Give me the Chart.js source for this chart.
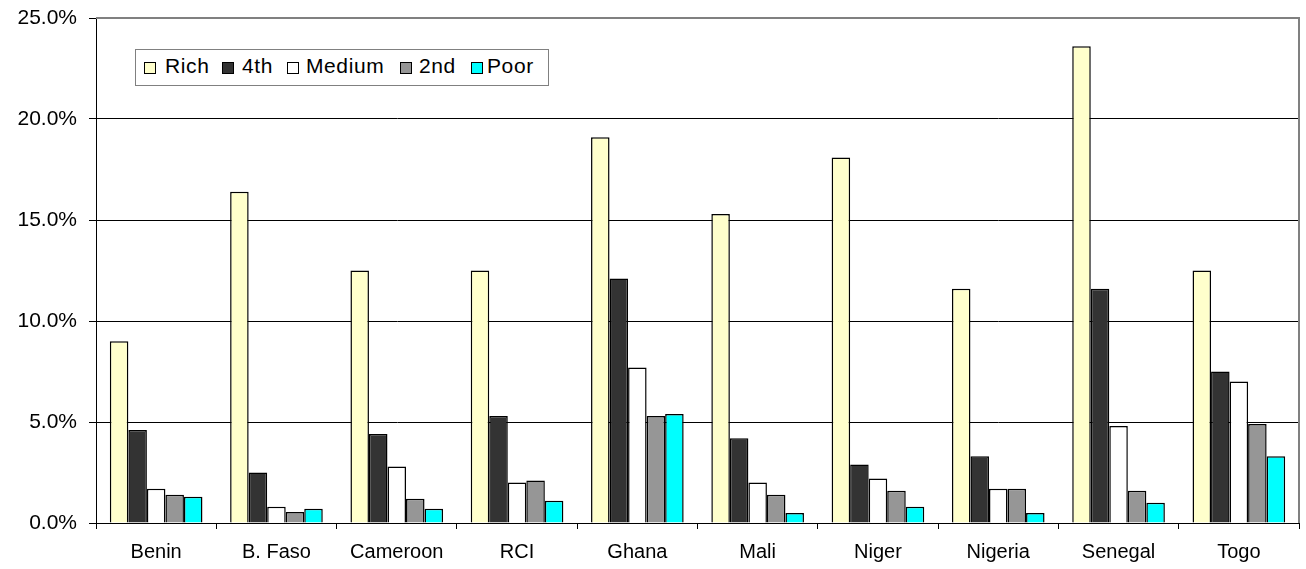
<!DOCTYPE html>
<html>
<head>
<meta charset="utf-8">
<script src="https://cdn.jsdelivr.net/npm/chart.js@4.4.1/dist/chart.umd.min.js"></script>
<style>
  html, body { margin: 0; padding: 0; background: #fff; }
  #wrap { position: relative; width: 1306px; height: 569px; }
  #legend {
    position: absolute; left: 135px; top: 49px; width: 412px; height: 35px;
    border: 1px solid #808080; background: #fff;
    font-family: "Liberation Sans", Arial, sans-serif; font-size: 21px; color: #000;
  }
  #legend .box { position: absolute; top: 12px; width: 10px; height: 10px; border: 1px solid #000; }
  #legend .txt { position: absolute; top: 4px; white-space: nowrap; letter-spacing: 0.6px; }
</style>
</head>
<body>
<div id="wrap">
  <canvas id="myChart" width="1306" height="569"></canvas>
  <div id="legend"></div>
</div>
<script>
const countries = ['Benin', 'B. Faso', 'Cameroon', 'RCI', 'Ghana', 'Mali', 'Niger', 'Nigeria', 'Senegal', 'Togo'];
const seriesNames = ['Rich', '4th', 'Medium', '2nd', 'Poor'];
const seriesColors = ['#FFFFCC', '#333333', '#FFFFFF', '#969696', '#00FFFF'];

// values in %
const rich   = [9.0, 16.4, 12.5, 12.5, 19.1, 15.3, 18.1, 11.6, 23.6, 12.5];
const fourth = [4.6, 2.5, 4.4, 5.3, 12.1, 4.2, 2.9, 3.3, 11.6, 7.5];
const medium = [1.7, 0.8, 2.8, 2.0, 7.7, 2.0, 2.2, 1.7, 4.8, 7.0];
const second = [1.4, 0.55, 1.2, 2.1, 5.3, 1.4, 1.6, 1.7, 1.6, 4.9];
const poor   = [1.3, 0.7, 0.7, 1.1, 5.4, 0.5, 0.8, 0.5, 1.0, 3.3];

const yTicks = [0, 5, 10, 15, 20, 25];

const allValues = [rich, fourth, medium, second, poor];

const datasets = [];
for (let i = 0; i < seriesNames.length; i++) {
  datasets.push({
    label: seriesNames[i],
    data: allValues[i],
    backgroundColor: seriesColors[i],
    borderColor: '#000000',
    borderWidth: 1.5,
    borderSkipped: 'bottom',
    barPercentage: 1.0,
    categoryPercentage: 0.77
  });
}

// top + right edges of the plot area, grey like excel
const plotFrame = {
  id: 'plotFrame',
  afterDraw(chart) {
    const a = chart.chartArea;
    const ctx = chart.ctx;
    ctx.save();
    ctx.strokeStyle = '#808080';
    ctx.lineWidth = 2;
    ctx.beginPath();
    ctx.moveTo(a.left, a.top);
    ctx.lineTo(a.right, a.top);
    ctx.lineTo(a.right, a.bottom);
    ctx.stroke();
    ctx.restore();
  }
};

const xFont = { family: '"Liberation Sans", Arial, sans-serif', size: 20 };
const yFont = { family: '"Liberation Sans", Arial, sans-serif', size: 21 };

const chart = new Chart(document.getElementById('myChart'), {
  type: 'bar',
  data: { labels: countries, datasets: datasets },
  options: {
    responsive: false,
    animation: false,
    layout: { padding: { top: 18, right: 7, left: 0, bottom: 0 } },
    plugins: { legend: { display: false }, tooltip: { enabled: false } },
    scales: {
      x: {
        grid: { display: true, offset: true, drawOnChartArea: false, color: '#000', tickLength: 6 },
        border: { color: '#000', width: 1 },
        ticks: { color: '#000', font: xFont, padding: 11, maxRotation: 0 },
        afterFit(scale) { scale.height = 46; }
      },
      y: {
        min: 0,
        max: 25,
        afterBuildTicks(scale) { scale.ticks = yTicks.map(v => ({ value: v })); },
        grid: {
          color: ctx => (ctx.tick && ctx.tick.value === 25) ? '#808080' : '#000',
          tickColor: '#000',
          tickLength: 7
        },
        border: { color: '#000', width: 1 },
        ticks: {
          color: '#000',
          font: yFont,
          padding: 12,
          callback: v => v.toFixed(1) + '%'
        },
        afterFit(scale) {
          scale.width = 96;
          scale.paddingTop = 0;
          scale.paddingBottom = 0;
        }
      }
    }
  },
  plugins: [plotFrame]
});

// legend inside the plot, like the original
const legendPos = [
  { box: 8, txt: 29 },
  { box: 86, txt: 106 },
  { box: 151, txt: 170 },
  { box: 264, txt: 283 },
  { box: 335, txt: 351 }
];
const legend = document.getElementById('legend');
for (let i = 0; i < seriesNames.length; i++) {
  const b = document.createElement('div');
  b.className = 'box';
  b.style.left = legendPos[i].box + 'px';
  b.style.background = seriesColors[i];
  legend.appendChild(b);
  const t = document.createElement('div');
  t.className = 'txt';
  t.style.left = legendPos[i].txt + 'px';
  t.textContent = seriesNames[i];
  legend.appendChild(t);
}
</script>
</body>
</html>
